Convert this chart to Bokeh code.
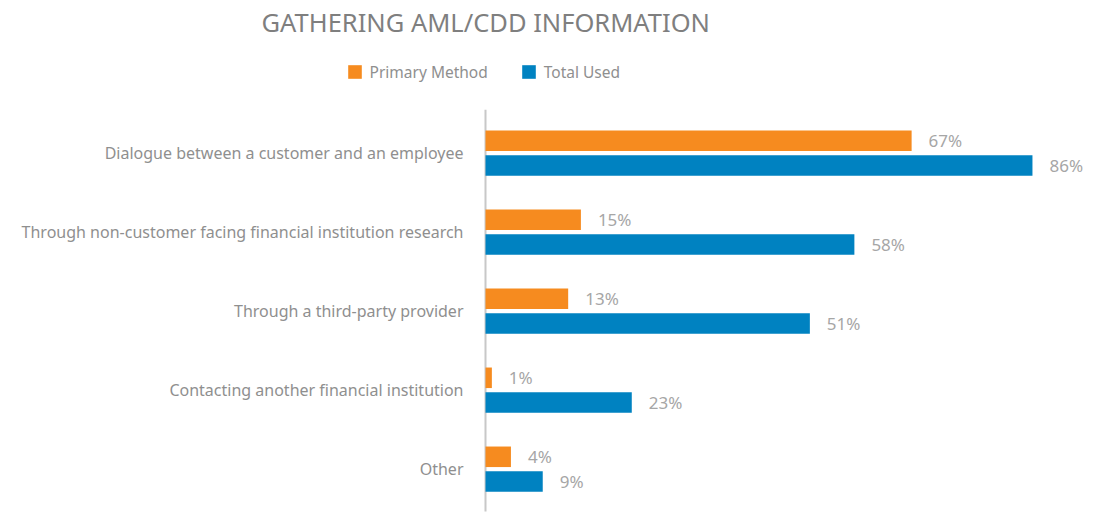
from bokeh.plotting import figure
from bokeh.models import ColumnDataSource, Range1d, Label, Legend, LegendItem, FixedTicker
from bokeh.core.properties import value
from bokeh.embed import file_html
from bokeh.resources import INLINE

categories = [
    "Dialogue between a customer and an employee",
    "Through non-customer facing financial institution research",
    "Through a third-party provider",
    "Contacting another financial institution",
    "Other",
]
primary_method = [67, 15, 13, 1, 4]
total_used = [86, 58, 51, 23, 9]
series_names = ["Primary Method", "Total Used"]
title_text = "GATHERING AML/CDD INFORMATION"

ORANGE = "#F68B1F"
BLUE = "#0082C1"
FONT = "Noto Sans"

n = len(categories)
ypos = [n - i - 0.5 for i in range(n)]          # category centres, top to bottom
OFF = 0.157                                       # dodge of each series
BAR_H = 0.26
src = ColumnDataSource(dict(
    y_primary=[y + OFF for y in ypos],
    y_total=[y - OFF for y in ypos],
    primary=primary_method,
    total=total_used,
    primary_lbl=[f"{v}%" for v in primary_method],
    total_lbl=[f"{v}%" for v in total_used],
))

W, H = 1096, 520
AXIS_PX = 485          # screen x of value 0
BASE_PX = 508.2        # screen y of the bottom of the category band
PX_X = 6.36            # pixels per percent
PX_Y = 79              # pixels per category

p = figure(width=W, height=H, output_backend="svg", toolbar_location=None,
           x_range=Range1d(-AXIS_PX / PX_X, (W - AXIS_PX) / PX_X),
           y_range=Range1d(-(H - BASE_PX) / PX_Y, BASE_PX / PX_Y),
           x_axis_location=None,
           min_border_left=0, min_border_right=0, min_border_top=0, min_border_bottom=0)
p.outline_line_color = None
p.xgrid.visible = False
p.ygrid.visible = False

# axis line along value 0, spanning the category band (slightly padded)
p.segment(x0=[0], y0=[-0.035], x1=[0], y1=[n + 0.05], line_color="#c8c8c8", line_width=2)

r1 = p.hbar(y="y_primary", right="primary", left=0, height=BAR_H,
            source=src, fill_color=ORANGE, line_color=None)
r2 = p.hbar(y="y_total", right="total", left=0, height=BAR_H,
            source=src, fill_color=BLUE, line_color=None)

for ycol, xcol, tcol in [("y_primary", "primary", "primary_lbl"), ("y_total", "total", "total_lbl")]:
    p.text(x=xcol, y=ycol, text=tcol, source=src,
           x_offset=17, text_align="left", text_baseline="middle",
           text_font=value(FONT), text_font_size="17px", text_color="#a6a6a6")

ax = p.yaxis[0]
ax.fixed_location = 0
ax.ticker = FixedTicker(ticks=ypos)
ax.major_label_overrides = {y: c for y, c in zip(ypos, categories)}
ax.axis_line_color = None
ax.major_tick_line_color = None
ax.minor_tick_line_color = None
ax.major_tick_out = 0
ax.major_tick_in = 0
ax.major_label_standoff = 22
ax.major_label_text_font = FONT
ax.major_label_text_font_size = "16px"
ax.major_label_text_color = "#8f8f8f"

p.add_layout(Label(x=261, y=H - 21.5, x_units="screen", y_units="screen",
                   text=title_text, text_font=FONT, text_font_size="25.5px",
                   text_color="#7f7f7f", text_baseline="middle", text_align="left"))

legend = Legend(items=[LegendItem(label=series_names[0], renderers=[r1]),
                       LegendItem(label=series_names[1], renderers=[r2])],
                orientation="horizontal", location=(345.6, H - 82.5),
                glyph_width=17, glyph_height=17, label_height=17, label_standoff=7,
                spacing=32, padding=0, margin=0, border_line_color=None,
                background_fill_alpha=0, label_text_font=FONT,
                label_text_font_size="15.5px", label_text_color="#8f8f8f")
p.add_layout(legend)

open("out.html", "w").write(file_html(p, INLINE))
